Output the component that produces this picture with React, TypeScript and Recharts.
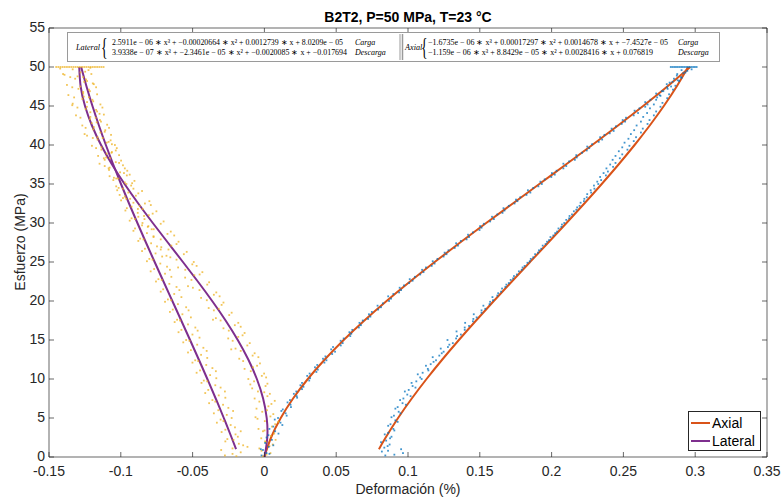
import React from 'react';
import { ComposedChart, Line, Scatter, XAxis, YAxis, Legend } from 'recharts';

// ---------- axis ticks ----------
const X_TICKS = [-0.15, -0.1, -0.05, 0, 0.05, 0.1, 0.15, 0.2, 0.25, 0.3, 0.35];
const X_TICK_LABELS = ['-0.15', '-0.1', '-0.05', '0', '0.05', '0.1', '0.15', '0.2', '0.25', '0.3', '0.35'];
const Y_TICKS = [0, 5, 10, 15, 20, 25, 30, 35, 40, 45, 50, 55];
const Y_TICK_LABELS = ['0', '5', '10', '15', '20', '25', '30', '35', '40', '45', '50', '55'];

// ---------- fitted curves (stress MPa -> strain %) ----------
const STRESS_LOAD = [0, 2.5, 5, 7.5, 10, 12.5, 15, 17.5, 20, 22.5, 25, 27.5, 30, 32.5, 35, 37.5, 40, 42.5, 45, 47.5, 50];
const LAT_LOAD = [0.00008, 0.00201, 0.00161, -0.0009, -0.00525, -0.01122, -0.01856, -0.02702, -0.03637, -0.04636, -0.05674, -0.06727, -0.07772, -0.08783, -0.09738, -0.1061, -0.11376, -0.12011, -0.12493, -0.12795, -0.12894];
const AX_LOAD = [-0.00007, 0.00465, 0.01138, 0.01996, 0.03023, 0.04203, 0.05521, 0.06962, 0.08508, 0.10146, 0.11858, 0.1363, 0.15445, 0.17298, 0.19144, 0.20996, 0.22829, 0.24627, 0.26374, 0.28056, 0.29655];
const STRESS_UNLOAD = [1, 2.5, 5, 7.5, 10, 12.5, 15, 17.5, 20, 22.5, 25, 27.5, 30, 32.5, 35, 37.5, 40, 42.5, 45, 47.5, 50];
const LAT_UNLOAD = [-0.01973, -0.02286, -0.02827, -0.03391, -0.03973, -0.0457, -0.05177, -0.05792, -0.0641, -0.07028, -0.07642, -0.08249, -0.08844, -0.09425, -0.09987, -0.10526, -0.1104, -0.11523, -0.11974, -0.12387, -0.1276];
const AX_UNLOAD = [0.07975, 0.08446, 0.09309, 0.10262, 0.11292, 0.12389, 0.13543, 0.14742, 0.15975, 0.17232, 0.18502, 0.19773, 0.21036, 0.22279, 0.23491, 0.24661, 0.25779, 0.26834, 0.27815, 0.2871, 0.2951];

// ---------- measured points [stress, strain] ----------
const LAT_LOAD_PTS: number[][] = [
  [0.3, 0.0015], [0.8, -0.002], [1.4, 0.0035], [2.0, 0.0005], [2.7, 0.0045], [3.3, -0.001], [3.9, 0.0052], [4.6, 0.0003],
  [5.2, 0.0042], [5.8, -0.0015], [6.5, 0.0028], [7.1, -0.0035], [7.8, 0.0021], [8.4, -0.0045], [9.1, 0.0008], [9.7, -0.0072],
  [10.4, -0.0018], [11.0, -0.0095], [11.7, -0.0051], [12.3, -0.0148], [13.0, -0.0082], [13.6, -0.0165], [14.3, -0.0119],
  [14.9, -0.0221], [15.6, -0.0152], [16.2, -0.0248], [16.9, -0.0206], [17.5, -0.0305], [18.2, -0.0245], [18.8, -0.0352],
  [19.5, -0.0298], [20.1, -0.0401], [20.8, -0.0352], [21.4, -0.0452], [22.1, -0.0398], [22.7, -0.0508], [23.4, -0.0451],
  [24.0, -0.0551], [24.7, -0.0502], [25.3, -0.0612], [26.0, -0.0561], [26.6, -0.0668], [27.3, -0.0612], [27.9, -0.0722],
  [28.6, -0.0675], [29.2, -0.0771], [29.9, -0.0722], [30.5, -0.0835], [31.2, -0.0778], [31.8, -0.0881], [32.5, -0.0832],
  [33.1, -0.0935], [33.8, -0.0878], [34.4, -0.0985], [35.1, -0.0921], [35.7, -0.1032], [36.4, -0.0978], [37.0, -0.1085],
  [37.7, -0.1012], [38.3, -0.1118], [39.0, -0.1065], [39.6, -0.1172], [40.3, -0.1098], [40.9, -0.1195], [41.6, -0.1142],
  [42.2, -0.1245], [42.9, -0.1168], [43.5, -0.1281], [44.2, -0.1212], [44.8, -0.1302], [45.5, -0.1235], [46.1, -0.1325],
  [46.8, -0.1262], [47.4, -0.1338], [48.1, -0.1255], [48.7, -0.1352], [49.3, -0.1281],
  [0.5, 0.0042], [1.1, -0.0035], [1.6, 0.0058], [2.4, -0.0022], [3.0, 0.0068], [3.6, -0.0041], [4.2, 0.0075], [4.9, -0.0048],
  [5.5, 0.0062], [6.2, -0.0055], [6.8, 0.0049], [7.5, -0.0068], [8.1, 0.0038], [8.8, -0.0085], [9.4, 0.0021], [10.0, -0.0112],
  [10.7, -0.0002], [11.3, -0.0138], [12.0, -0.0031], [12.6, -0.0175], [13.3, -0.0068], [13.9, -0.0201], [14.6, -0.0102],
  [15.2, -0.0252], [15.9, -0.0138], [16.5, -0.0285], [17.2, -0.0182], [17.8, -0.0338], [18.5, -0.0228], [19.1, -0.0388],
  [19.8, -0.0285], [20.4, -0.0441], [21.1, -0.0335], [21.7, -0.0498], [22.4, -0.0385], [23.0, -0.0552], [23.7, -0.0432],
  [24.3, -0.0601], [25.0, -0.0492], [25.6, -0.0655], [26.3, -0.0541], [26.9, -0.0718], [27.6, -0.0598], [28.2, -0.0772],
  [28.9, -0.0652], [29.5, -0.0812], [30.2, -0.0702], [30.8, -0.0878], [31.5, -0.0752], [32.1, -0.0925], [32.8, -0.0801],
  [33.4, -0.0972], [34.1, -0.0852], [34.7, -0.1032], [35.4, -0.0905], [36.0, -0.1078], [36.7, -0.0955], [37.3, -0.1112],
  [38.0, -0.0998], [38.6, -0.1158], [39.3, -0.1035], [39.9, -0.1201], [40.6, -0.1071], [41.2, -0.1235], [41.9, -0.1108],
  [42.5, -0.1268], [43.2, -0.1145], [43.8, -0.1312], [44.5, -0.1172], [45.1, -0.1338], [45.8, -0.1198], [46.4, -0.1365],
  [47.1, -0.1222], [47.7, -0.1375], [48.4, -0.1242], [49.0, -0.1392], [49.6, -0.1225],
  [0.1, -0.0012], [1.9, 0.0009], [2.2, 0.0078], [3.4, 0.0001], [4.5, 0.0096], [5.1, -0.0062], [6.0, 0.0018], [7.2, 0.0072],
  [8.3, -0.0001], [9.3, -0.0098], [10.2, 0.0012], [11.5, -0.0079], [12.8, -0.0042], [13.8, -0.0231], [15.4, -0.0182],
  [16.7, -0.0165], [17.6, -0.0358], [19.0, -0.0318], [20.6, -0.0312], [21.9, -0.0532], [23.3, -0.0488], [24.5, -0.0472],
  [25.8, -0.0682], [27.1, -0.0648], [28.4, -0.0628], [29.7, -0.0852], [31.0, -0.0805], [32.3, -0.0791], [33.6, -0.1008],
  [35.0, -0.0961], [36.2, -0.0938], [37.6, -0.1148], [38.9, -0.1098], [40.1, -0.1062], [41.4, -0.1252], [42.8, -0.1202],
  [44.0, -0.1148], [45.3, -0.1335], [46.6, -0.1262], [47.9, -0.1195], [49.1, -0.1402], [49.8, -0.1422],
];
const LAT_UNLOAD_PTS: number[][] = [
  [0.2, -0.0275], [0.6, -0.0165], [1.1, -0.0222], [1.7, -0.0178], [2.3, -0.0258], [2.9, -0.0201], [3.5, -0.0272], [4.1, -0.0235],
  [4.8, -0.0305], [5.4, -0.0262], [6.0, -0.0321], [6.7, -0.0288], [7.3, -0.0362], [7.9, -0.0318], [8.6, -0.0391], [9.2, -0.0342],
  [9.8, -0.0422], [10.5, -0.0378], [11.1, -0.0448], [11.8, -0.0405], [12.4, -0.0482], [13.1, -0.0441], [13.7, -0.0512],
  [14.4, -0.0468], [15.0, -0.0545], [15.7, -0.0501], [16.3, -0.0578], [17.0, -0.0532], [17.6, -0.0608], [18.3, -0.0571],
  [18.9, -0.0638], [19.6, -0.0602], [20.2, -0.0672], [20.9, -0.0628], [21.5, -0.0705], [22.2, -0.0662], [22.8, -0.0738],
  [23.5, -0.0692], [24.1, -0.0768], [24.8, -0.0725], [25.4, -0.0801], [26.1, -0.0758], [26.7, -0.0832], [27.4, -0.0789],
  [28.0, -0.0865], [28.7, -0.0818], [29.3, -0.0901], [30.0, -0.0849], [30.6, -0.0925], [31.3, -0.0882], [31.9, -0.0958],
  [32.6, -0.0912], [33.2, -0.0985], [33.9, -0.0948], [34.5, -0.1015], [35.2, -0.0972], [35.8, -0.1048], [36.5, -0.1005],
  [37.1, -0.1078], [37.8, -0.1035], [38.4, -0.1102], [39.1, -0.1062], [39.7, -0.1135], [40.4, -0.1085], [41.0, -0.1162],
  [41.7, -0.1112], [42.3, -0.1188], [43.0, -0.1138], [43.6, -0.1212], [44.3, -0.1165], [44.9, -0.1236], [45.6, -0.1192],
  [46.2, -0.1258], [46.9, -0.1215], [47.5, -0.1282], [48.2, -0.1235], [48.8, -0.1301], [49.4, -0.1248],
  [0.4, -0.0222], [0.9, -0.0301], [1.5, -0.0148], [2.0, -0.0272], [2.6, -0.0185], [3.2, -0.0298], [3.8, -0.0205], [4.4, -0.0331],
  [5.0, -0.0228], [5.6, -0.0352], [6.3, -0.0251], [6.9, -0.0385], [7.6, -0.0272], [8.2, -0.0412], [8.9, -0.0305], [9.5, -0.0438],
  [10.1, -0.0335], [10.8, -0.0472], [11.4, -0.0362], [12.1, -0.0501], [12.7, -0.0398], [13.4, -0.0532], [14.0, -0.0425],
  [14.7, -0.0565], [15.3, -0.0452], [16.0, -0.0598], [16.6, -0.0481], [17.3, -0.0625], [17.9, -0.0512], [18.6, -0.0658],
  [19.2, -0.0545], [19.9, -0.0692], [20.5, -0.0578], [21.2, -0.0722], [21.8, -0.0612], [22.5, -0.0755], [23.1, -0.0648],
  [23.8, -0.0792], [24.4, -0.0678], [25.1, -0.0818], [25.7, -0.0712], [26.4, -0.0852], [27.0, -0.0748], [27.7, -0.0878],
  [28.3, -0.0772], [29.0, -0.0912], [29.6, -0.0808], [30.3, -0.0938], [30.9, -0.0838], [31.6, -0.0968], [32.2, -0.0868],
  [32.9, -0.0998], [33.5, -0.0895], [34.2, -0.1025], [34.8, -0.0928], [35.5, -0.1052], [36.1, -0.0958], [36.8, -0.1082],
  [37.4, -0.0985], [38.1, -0.1112], [38.7, -0.1012], [39.4, -0.1135], [40.0, -0.1041], [40.7, -0.1162], [41.3, -0.1068],
  [42.0, -0.1192], [42.6, -0.1095], [43.3, -0.1215], [43.9, -0.1118], [44.6, -0.1245], [45.2, -0.1142], [45.9, -0.1268],
  [46.5, -0.1165], [47.2, -0.1295], [47.8, -0.1188], [48.5, -0.1318], [49.1, -0.1205], [49.7, -0.1335],
  [0.1, -0.0195], [1.3, -0.0118], [2.2, -0.0215], [3.3, -0.0165], [4.6, -0.0285], [5.9, -0.0218], [7.1, -0.0342], [8.4, -0.0275],
  [9.7, -0.0398], [11.0, -0.0338], [12.3, -0.0461], [13.6, -0.0402], [14.9, -0.0522], [16.2, -0.0465], [17.5, -0.0588],
  [18.8, -0.0528], [20.1, -0.065], [21.4, -0.0592], [22.7, -0.0715], [24.0, -0.0658], [25.3, -0.0779], [26.6, -0.0722],
  [27.9, -0.0842], [29.2, -0.0785], [30.5, -0.0902], [31.8, -0.0848], [33.1, -0.0962], [34.4, -0.0912], [35.7, -0.1018],
  [37.0, -0.0972], [38.3, -0.1075], [39.6, -0.1028], [40.9, -0.1126], [42.2, -0.1082], [43.5, -0.1175], [44.8, -0.1128],
  [46.1, -0.1222], [47.4, -0.1172], [48.7, -0.1262], [49.9, -0.1212],
];
const LAT_PEAK_PTS: number[][] = [
  [50, -0.145], [50, -0.1435], [50, -0.142], [50, -0.1405], [50, -0.139], [50, -0.1375], [50, -0.136], [50, -0.1345],
  [50, -0.133], [50, -0.1315], [50, -0.13], [50, -0.1285], [50, -0.127], [50, -0.1255], [50, -0.124], [50, -0.1225],
  [50, -0.121], [50, -0.1195], [50, -0.118], [50, -0.1165], [50, -0.115], [50, -0.1135], [50, -0.112],
];
const AX_LOAD_PTS: number[][] = [
  [0.2, -0.002], [0.5, 0.0015], [0.9, -0.001], [1.3, 0.003], [1.8, 0.0005], [2.2, 0.0052], [2.8, 0.0028], [3.3, 0.0075],
  [3.9, 0.0062], [4.4, 0.0112], [5.0, 0.0095], [5.6, 0.0148], [6.1, 0.0128], [6.7, 0.0182], [7.3, 0.0178], [7.8, 0.0225],
  [8.4, 0.0222], [9.0, 0.0272], [9.5, 0.0262], [10.1, 0.0318], [10.7, 0.0315], [11.2, 0.0372], [11.8, 0.0368], [12.4, 0.0432],
  [12.9, 0.0425], [13.5, 0.0492], [14.1, 0.0478], [14.6, 0.0545], [15.2, 0.0552], [15.8, 0.0605], [16.3, 0.0612], [16.9, 0.0672],
  [17.5, 0.0685], [18.0, 0.0738], [18.6, 0.0748], [19.2, 0.0812], [19.7, 0.0825], [20.3, 0.0882], [20.9, 0.0898], [21.4, 0.0952],
  [22.0, 0.0972], [22.6, 0.1032], [23.1, 0.1048], [23.7, 0.1108], [24.3, 0.1125], [24.8, 0.1185], [25.4, 0.1205], [26.0, 0.1268],
  [26.5, 0.1282], [27.1, 0.1348], [27.7, 0.1368], [28.2, 0.1425], [28.8, 0.1452], [29.4, 0.1512], [29.9, 0.1528], [30.5, 0.1598],
  [31.1, 0.1622], [31.6, 0.1672], [32.2, 0.1702], [32.8, 0.1762], [33.3, 0.1782], [33.9, 0.1852], [34.5, 0.1872], [35.0, 0.1932],
  [35.6, 0.1952], [36.2, 0.2022], [36.7, 0.2035], [37.3, 0.2102], [37.9, 0.2122], [38.4, 0.2175], [39.0, 0.2212], [39.6, 0.2262],
  [40.1, 0.2282], [40.7, 0.2352], [41.3, 0.2368], [41.8, 0.2432], [42.4, 0.2448], [43.0, 0.2512], [43.5, 0.2518], [44.1, 0.2602],
  [44.7, 0.2612], [45.2, 0.2668], [45.8, 0.2688], [46.4, 0.2752], [46.9, 0.2768], [47.5, 0.2832], [48.1, 0.2842], [48.6, 0.2905],
  [49.2, 0.2918], [49.7, 0.2975],
  [0.4, 0.0035], [1.0, -0.0025], [1.5, 0.0062], [2.5, 0.0015], [3.0, 0.0098], [3.6, 0.0035], [4.1, 0.0125], [4.8, 0.0072],
  [5.3, 0.0155], [5.9, 0.0118], [6.4, 0.0185], [7.0, 0.0161], [7.6, 0.0228], [8.1, 0.0205], [8.7, 0.0262], [9.2, 0.0251],
  [9.8, 0.0312], [10.4, 0.0298], [10.9, 0.0362], [11.5, 0.0352], [12.1, 0.0418], [12.6, 0.0408], [13.2, 0.0472], [13.8, 0.0465],
  [14.3, 0.0532], [14.9, 0.0531], [15.5, 0.0598], [16.0, 0.0592], [16.6, 0.0658], [17.2, 0.0662], [17.7, 0.0722], [18.3, 0.0728],
  [18.9, 0.0792], [19.4, 0.0788], [20.0, 0.0868], [20.6, 0.0862], [21.1, 0.0938], [21.7, 0.0942], [22.3, 0.1008], [22.8, 0.1012],
  [23.4, 0.1085], [24.0, 0.1098], [24.5, 0.1165], [25.1, 0.1172], [25.7, 0.1248], [26.2, 0.1255], [26.8, 0.1325], [27.4, 0.1335],
  [27.9, 0.1408], [28.5, 0.1418], [29.1, 0.1498], [29.6, 0.1502], [30.2, 0.1572], [30.8, 0.1585], [31.3, 0.1658], [31.9, 0.1665],
  [32.5, 0.1742], [33.0, 0.1752], [33.6, 0.1825], [34.2, 0.1835], [34.7, 0.1908], [35.3, 0.1922], [35.9, 0.1998], [36.4, 0.2002],
  [37.0, 0.2082], [37.6, 0.2082], [38.1, 0.2162], [38.7, 0.2172], [39.3, 0.2245], [39.8, 0.2248], [40.4, 0.2328], [41.0, 0.2338],
  [41.5, 0.2405], [42.1, 0.2418], [42.7, 0.2488], [43.2, 0.2495], [43.8, 0.2572], [44.4, 0.2578], [44.9, 0.2652], [45.5, 0.2652],
  [46.1, 0.2735], [46.6, 0.2728], [47.2, 0.2808], [47.8, 0.2802], [48.3, 0.2878], [48.9, 0.2872], [49.5, 0.2945],
];
const AX_UNLOAD_PTS: number[][] = [
  [0.2, 0.0842], [0.5, 0.0965], [0.8, 0.0861], [1.2, 0.0835], [1.6, 0.0872], [2.1, 0.0848], [2.6, 0.0885], [3.1, 0.0862],
  [3.6, 0.0898], [4.2, 0.0878], [4.7, 0.0912], [5.3, 0.0902], [5.8, 0.0935], [6.4, 0.0928], [6.9, 0.0962], [7.5, 0.0968],
  [8.0, 0.0995], [8.6, 0.1005], [9.1, 0.1032], [9.7, 0.1058], [10.2, 0.1085], [10.8, 0.1102], [11.3, 0.1138], [11.9, 0.1158],
  [12.4, 0.1195], [13.0, 0.1218], [13.5, 0.1248], [14.1, 0.1278], [14.6, 0.1312], [15.2, 0.1335], [15.7, 0.1368], [16.3, 0.1395],
  [16.8, 0.1425], [17.4, 0.1452], [17.9, 0.1478], [18.5, 0.1512], [19.0, 0.1538], [19.6, 0.1568], [20.1, 0.1592], [20.7, 0.1622],
  [21.2, 0.1648], [21.8, 0.1678], [22.3, 0.1702], [22.9, 0.1732], [23.4, 0.1758], [24.0, 0.1792], [24.5, 0.1812], [25.1, 0.1848],
  [25.6, 0.1872], [26.2, 0.1905], [26.7, 0.1928], [27.3, 0.1958], [27.8, 0.1982], [28.4, 0.2012], [28.9, 0.2038], [29.5, 0.2068],
  [30.0, 0.2088], [30.6, 0.2122], [31.1, 0.2142], [31.7, 0.2172], [32.2, 0.2195], [32.8, 0.2225], [33.3, 0.2245], [33.9, 0.2275],
  [34.4, 0.2298], [35.0, 0.2325], [35.5, 0.2345], [36.1, 0.2378], [36.6, 0.2392], [37.2, 0.2428], [37.7, 0.2445], [38.3, 0.2475],
  [38.8, 0.2492], [39.4, 0.2528], [39.9, 0.2542], [40.5, 0.2572], [41.0, 0.2588], [41.6, 0.2622], [42.1, 0.2635], [42.7, 0.2668],
  [43.2, 0.2682], [43.8, 0.2712], [44.3, 0.2728], [44.9, 0.2758], [45.4, 0.2772], [46.0, 0.2805], [46.5, 0.2818], [47.1, 0.2845],
  [47.6, 0.2862], [48.2, 0.2888], [48.7, 0.2902], [49.3, 0.2932],
  [0.3, 0.0905], [0.7, 0.0818], [1.0, 0.0952], [1.4, 0.0858], [1.9, 0.0812], [2.4, 0.0875], [2.9, 0.0838], [3.4, 0.0905],
  [4.0, 0.0862], [4.5, 0.0928], [5.1, 0.0885], [5.6, 0.0948], [6.2, 0.0912], [6.7, 0.0985], [7.3, 0.0945], [7.8, 0.1018],
  [8.4, 0.0978], [8.9, 0.1052], [9.5, 0.1025], [10.0, 0.1095], [10.6, 0.1068], [11.1, 0.1142], [11.7, 0.1125], [12.2, 0.1178],
  [12.8, 0.1172], [13.3, 0.1235], [13.9, 0.1228], [14.4, 0.1288], [15.0, 0.1275], [15.5, 0.1342], [16.1, 0.1338], [16.6, 0.1395],
  [17.2, 0.1398], [17.7, 0.1455], [18.3, 0.1458], [18.8, 0.1512], [19.4, 0.1525], [19.9, 0.1572], [20.5, 0.1588], [21.0, 0.1628],
  [21.6, 0.1655], [22.1, 0.1685], [22.7, 0.1715], [23.2, 0.1738], [23.8, 0.1772], [24.3, 0.1798], [24.9, 0.1832], [25.4, 0.1855],
  [26.0, 0.1885], [26.5, 0.1912], [27.1, 0.1938], [27.6, 0.1968], [28.2, 0.1992], [28.7, 0.2025], [29.3, 0.2048], [29.8, 0.2072],
  [30.4, 0.2102], [30.9, 0.2125], [31.5, 0.2155], [32.0, 0.2178], [32.6, 0.2202], [33.1, 0.2228], [33.7, 0.2248], [34.2, 0.2272],
  [34.8, 0.2295], [35.3, 0.2318], [35.9, 0.2338], [36.4, 0.2362], [37.0, 0.2382], [37.5, 0.2408], [38.1, 0.2425], [38.6, 0.2445],
  [39.2, 0.2468], [39.7, 0.2492], [40.3, 0.2508], [40.8, 0.2535], [41.4, 0.2552], [41.9, 0.2575], [42.5, 0.2592], [43.0, 0.2622],
  [43.6, 0.2638], [44.1, 0.2665], [44.7, 0.2685], [45.2, 0.2712], [45.8, 0.2728], [46.3, 0.2758], [46.9, 0.2778], [47.4, 0.2805],
  [48.0, 0.2822], [48.5, 0.2852], [49.1, 0.2875], [49.6, 0.2905],
];
const AX_PEAK_PTS: number[][] = [
  [50, 0.283], [50, 0.2842], [50, 0.2854], [50, 0.2866], [50, 0.2878], [50, 0.289], [50, 0.2902], [50, 0.2914],
  [50, 0.2926], [50, 0.2938], [50, 0.295], [50, 0.2962], [50, 0.2974], [50, 0.2986], [50, 0.2998], [50, 0.301],
];

// ---------- text ----------
const TITLE = 'B2T2, P=50 MPa, T=23 °C';
const X_LABEL = 'Deformación (%)';
const Y_LABEL = 'Esfuerzo (MPa)';
const LEGEND_ITEMS = [
  { name: 'Axial', color: '#D95319' },
  { name: 'Lateral', color: '#7E2F8E' },
];
const LAT_EQ = [
  '2.5911e − 06 ∗ x³ + −0.00020664 ∗ x² + 0.0012739 ∗ x + 8.0209e − 05',
  '3.9338e − 07 ∗ x³ + −2.3461e − 05 ∗ x² + −0.0020085 ∗ x + −0.017694',
];
const AX_EQ = [
  '−1.6735e − 06 ∗ x³ + 0.00017297 ∗ x² + 0.0014678 ∗ x + −7.4527e − 05',
  '−1.159e − 06 ∗ x³ + 8.8429e − 05 ∗ x² + 0.0028416 ∗ x + 0.076819',
];
const EQ_TAGS = ['Carga', 'Descarga'];

const AXIS_COLOR = '#262626';
const FONT = '"Liberation Sans", Arial, Helvetica, sans-serif';
const MATH_FONT = '"Liberation Serif", "Times New Roman", serif';
const LAT_DOT = '#EDB120';
const AX_DOT = '#0072BD';

const curve = (s: number[], e: number[]) => s.map((v, i) => ({ x: e[i], y: v }));
const pts = (arr: number[][]) => arr.map(([s, e]) => ({ x: e, y: s }));

const xLabel = (v: number) => { const i = X_TICKS.indexOf(v); return i >= 0 ? X_TICK_LABELS[i] : String(v); };
const yLabel = (v: number) => { const i = Y_TICKS.indexOf(v); return i >= 0 ? Y_TICK_LABELS[i] : String(v); };

const BottomTick = (p: any) => (
  <g>
    <line x1={p.x} y1={p.y} x2={p.x} y2={p.y - 5} stroke={AXIS_COLOR} strokeWidth={0.7} />
    <text x={p.x} y={p.y + 18.5} textAnchor="middle" fontSize={14} fontFamily={FONT} fill={AXIS_COLOR}>{xLabel(p.payload.value)}</text>
  </g>
);
const TopTick = (p: any) => (
  <line x1={p.x} y1={p.y} x2={p.x} y2={p.y + 5} stroke={AXIS_COLOR} strokeWidth={0.7} />
);
const LeftTick = (p: any) => (
  <g>
    <line x1={p.x} y1={p.y} x2={p.x + 5} y2={p.y} stroke={AXIS_COLOR} strokeWidth={0.7} />
    <text x={p.x - 4} y={p.y + 4} textAnchor="end" fontSize={14} fontFamily={FONT} fill={AXIS_COLOR}>{yLabel(p.payload.value)}</text>
  </g>
);
const RightTick = (p: any) => (
  <line x1={p.x} y1={p.y} x2={p.x - 5} y2={p.y} stroke={AXIS_COLOR} strokeWidth={0.7} />
);

const makeDot = (color: string) => (p: any) => (
  <rect x={p.cx - 0.9} y={p.cy - 0.9} width={1.8} height={1.8} fill={color} fillOpacity={0.75} />
);

const LegendBox = () => (
  <div style={{ width: 73, height: 40, border: '1px solid #262626', background: '#fff', fontFamily: FONT, fontSize: 14, boxSizing: 'border-box', padding: '2px 0 0 2px' }}>
    {LEGEND_ITEMS.map((it) => (
      <div key={it.name} style={{ display: 'flex', alignItems: 'center', height: 18, color: '#000' }}>
        <span style={{ display: 'inline-block', width: 19, height: 2, background: it.color, marginRight: 2 }} />
        <span>{it.name}</span>
      </div>
    ))}
  </div>
);

const EqGroup = ({ x0, label, brace, eqX, eqW, tagX, eqs }: any) => (
  <g fontFamily={MATH_FONT} fill="#000">
    <text x={x0} y={49.5} fontSize={8.2} fontStyle="italic">{label}</text>
    <text x={brace} y={55.5} fontSize={25} fontWeight={300} transform={`scale(0.55 1) translate(${brace / 0.55 - brace} 0)`}>{'{'}</text>
    {eqs.map((e: string, i: number) => (
      <g key={i}>
        <text x={eqX} y={44.5 + i * 10.5} fontSize={7.9} textLength={eqW[i]} lengthAdjust="spacingAndGlyphs">{e}</text>
        <text x={tagX} y={44.5 + i * 10.5} fontSize={8} fontStyle="italic">{EQ_TAGS[i]}</text>
      </g>
    ))}
  </g>
);

export default function App() {
  return (
    <div style={{ position: 'fixed', left: 0, top: 0, width: 781, height: 498, background: '#fff' }}>
      <ComposedChart width={781} height={498} margin={{ top: 27, right: 13, bottom: 0, left: 0 }}>
        <XAxis xAxisId={0} dataKey="x" type="number" domain={[-0.15, 0.35]} ticks={X_TICKS} allowDataOverflow
          height={41} tickSize={0} tickMargin={0} tickLine={false} tick={BottomTick} axisLine={{ stroke: AXIS_COLOR, strokeWidth: 0.7 }} interval={0} />
        <XAxis xAxisId="top" orientation="top" dataKey="x" type="number" domain={[-0.15, 0.35]} ticks={X_TICKS} allowDataOverflow
          height={1} tickSize={0} tickMargin={0} tickLine={false} tick={TopTick} axisLine={{ stroke: AXIS_COLOR, strokeWidth: 0.7 }} interval={0} />
        <YAxis yAxisId={0} dataKey="y" type="number" domain={[0, 55]} ticks={Y_TICKS} allowDataOverflow
          width={49} tickSize={0} tickMargin={0} tickLine={false} tick={LeftTick} axisLine={{ stroke: AXIS_COLOR, strokeWidth: 0.7 }} interval={0} />
        <YAxis yAxisId="right" orientation="right" dataKey="y" type="number" domain={[0, 55]} ticks={Y_TICKS} allowDataOverflow
          width={1} tickSize={0} tickMargin={0} tickLine={false} tick={RightTick} axisLine={{ stroke: AXIS_COLOR, strokeWidth: 0.7 }} interval={0} />

        <Scatter name="Lateral datos carga" data={pts(LAT_LOAD_PTS)} fill={LAT_DOT} shape={makeDot(LAT_DOT)} isAnimationActive={false} legendType="none" />
        <Scatter name="Lateral datos descarga" data={pts(LAT_UNLOAD_PTS)} fill={LAT_DOT} shape={makeDot(LAT_DOT)} isAnimationActive={false} legendType="none" />
        <Scatter name="Lateral pico" data={pts(LAT_PEAK_PTS)} fill={LAT_DOT} shape={makeDot(LAT_DOT)} isAnimationActive={false} legendType="none" />
        <Scatter name="Axial datos carga" data={pts(AX_LOAD_PTS)} fill={AX_DOT} shape={makeDot(AX_DOT)} isAnimationActive={false} legendType="none" />
        <Scatter name="Axial datos descarga" data={pts(AX_UNLOAD_PTS)} fill={AX_DOT} shape={makeDot(AX_DOT)} isAnimationActive={false} legendType="none" />
        <Scatter name="Axial pico" data={pts(AX_PEAK_PTS)} fill={AX_DOT} shape={makeDot(AX_DOT)} isAnimationActive={false} legendType="none" />

        <Line name="Axial" data={curve(STRESS_LOAD, AX_LOAD)} dataKey="y" type="natural" stroke="#D95319" strokeWidth={2} dot={false} isAnimationActive={false} />
        <Line name="Axial descarga" data={curve(STRESS_UNLOAD, AX_UNLOAD)} dataKey="y" type="natural" stroke="#D95319" strokeWidth={2} dot={false} isAnimationActive={false} legendType="none" />
        <Line name="Lateral" data={curve(STRESS_LOAD, LAT_LOAD)} dataKey="y" type="natural" stroke="#7E2F8E" strokeWidth={2} dot={false} isAnimationActive={false} />
        <Line name="Lateral descarga" data={curve(STRESS_UNLOAD, LAT_UNLOAD)} dataKey="y" type="natural" stroke="#7E2F8E" strokeWidth={2} dot={false} isAnimationActive={false} legendType="none" />

        <Legend layout="vertical" align="center" verticalAlign="middle" content={() => <LegendBox />}
          wrapperStyle={{ left: 688, top: 411, width: 73, height: 40, right: 'auto', bottom: 'auto' }} />
      </ComposedChart>

      <svg width={781} height={498} style={{ position: 'absolute', left: 0, top: 0, pointerEvents: 'none' }}>
        <text x={408} y={22} textAnchor="middle" fontSize={14} fontWeight="bold" fontFamily={FONT} fill="#000">{TITLE}</text>
        <text x={408} y={494} textAnchor="middle" fontSize={14} fontFamily={FONT} fill={AXIS_COLOR}>{X_LABEL}</text>
        <text x={25} y={242} textAnchor="middle" fontSize={14} fontFamily={FONT} fill={AXIS_COLOR} transform="rotate(-90 25 242)">{Y_LABEL}</text>

        <rect x={67.5} y={32.5} width={652} height={29} fill="#fff" stroke="#9a9a9a" strokeWidth={1} />
        <line x1={400} y1={34} x2={400} y2={60} stroke="#9a9a9a" strokeWidth={1} />
        <line x1={402.5} y1={34} x2={402.5} y2={60} stroke="#9a9a9a" strokeWidth={1.5} />
        <EqGroup x0={76} label="Lateral" brace={101} eqX={112} eqW={[231, 235]} tagX={355} eqs={LAT_EQ} />
        <EqGroup x0={405} label="Axial" brace={421} eqX={428} eqW={[240, 225]} tagX={678} eqs={AX_EQ} />
      </svg>
    </div>
  );
}
